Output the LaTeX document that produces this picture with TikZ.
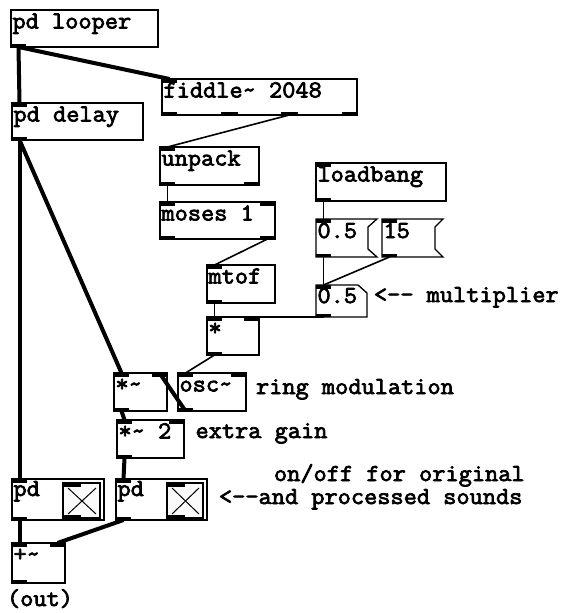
\documentclass[tikz,border=0pt]{standalone}
\usepackage{fontspec}
\newfontfamily\pdfont{Latin Modern Mono}[FakeStretch=1.05, FakeBold=3, Ligatures=TeXOff]
\usetikzlibrary{fit}
\newcommand\ioTL[1]{\fill (#1.north west) rectangle ++(15,3.5);}
\newcommand\ioTR[1]{\fill (#1.north east) rectangle ++(-15,3.5);}
\newcommand\ioBL[1]{\fill (#1.south west) rectangle ++(15,-3.5);}
\newcommand\ioBR[1]{\fill (#1.south east) rectangle ++(-15,-3.5);}
\newcommand\pdobj[6]{%
  \node[box, fit={(#2,#3) (#4,#5)}] (#1) {};
  \node[lbl] (#1-t) at (#2+1.5,#3+18.5) {#6};
}
\begin{document}
\begin{tikzpicture}[x=1pt,y=-1pt,
  box/.style={draw, line width=1.3pt, inner sep=0pt, outer sep=0pt},
  ghost/.style={inner sep=0pt, outer sep=0pt},
  sig/.style={line width=4pt},
  ctl/.style={line width=1.6pt},
  shp/.style={line width=1.3pt},
  lbl/.style={anchor=base west, inner sep=0pt, outer sep=0pt,
    font={\pdfont\fontsize{24.4}{26}\selectfont}},
  tgl/.style={draw, fill=gray!3, line width=1.3pt, inner sep=0pt, outer sep=0pt},
]
\useasboundingbox[fill=white] (0,0) rectangle (564,613);

% ---- objects
\pdobj{looper}{11}{10}{158}{47}{pd looper}
\ioBL{looper}
\pdobj{fiddle}{162}{79}{357}{115}{fiddle\string~ 2048}
\ioTL{fiddle}\ioBL{fiddle}\ioBR{fiddle}
\fill ([xshift=59.3pt]fiddle.south west) rectangle ++(17,-3.5);
\fill ([xshift=118.7pt]fiddle.south west) rectangle ++(17,-3.5);
\pdobj{delay}{12}{103}{143}{140}{pd delay}
\ioTL{delay}\ioBL{delay}
\pdobj{unpack}{160}{147}{259}{185}{unpack}
\ioTL{unpack}\ioBL{unpack}\ioBR{unpack}
\pdobj{moses}{160}{202}{275}{239}{moses 1}
\ioTL{moses}\ioTR{moses}\ioBL{moses}\ioBR{moses}
\pdobj{mtof}{207}{265}{275}{303}{mtof}
\ioTL{mtof}\ioBL{mtof}
\pdobj{mul}{207}{317}{259}{355}{*}
\ioTL{mul}\ioTR{mul}\ioBL{mul}
\pdobj{loadbang}{316}{163}{446}{201}{loadbang}
\ioTL{loadbang}\ioBL{loadbang}

% message boxes
\node[ghost, fit={(316,219) (368,257)}] (msgA) {};
\draw[shp] (msgA.north west) -- ([xshift=9pt]msgA.north east) -- ([shift={(0,8)}]msgA.north east)
  -- ([shift={(0,-8)}]msgA.south east) -- ([xshift=9pt]msgA.south east) -- (msgA.south west) -- cycle;
\node[lbl] (msgA-t) at (317.5,238) {0.5};
\ioTL{msgA}\ioBL{msgA}
\node[ghost, fit={(382,219) (435,257)}] (msgB) {};
\draw[shp] (msgB.north west) -- ([xshift=8pt]msgB.north east) -- ([shift={(0,8)}]msgB.north east)
  -- ([shift={(0,-8)}]msgB.south east) -- ([xshift=8pt]msgB.south east) -- (msgB.south west) -- cycle;
\node[lbl] (msgB-t) at (383.5,238) {15};
\ioTL{msgB}\ioBL{msgB}

% number atom
\node[ghost, fit={(316,285) (367,317)}] (atom) {};
\draw[shp] (atom.south west) -- (atom.north west) -- ([xshift=-9pt]atom.north east)
  -- ([shift={(0,8)}]atom.north east) -- (atom.south east) -- cycle;
\node[lbl] (atom-t) at (317.5,303) {0.5};
\ioTL{atom}\ioBL{atom}

\pdobj{sigmul}{114}{373}{167}{411}{*\string~}
\ioTL{sigmul}\ioTR{sigmul}\ioBL{sigmul}
\pdobj{osc}{178}{373}{246}{411}{osc\string~}
\ioTL{osc}\ioTR{osc}\ioBL{osc}
\pdobj{gain}{117}{420}{184}{458}{*\string~ 2}
\ioTL{gain}\ioTR{gain}\ioBL{gain}

% graph-on-parent subpatches with toggles
\node[box, fit={(12,479) (104,520)}] (pdA) {};
\node[lbl] (pdA-t) at (13.5,496) {pd};
\ioTL{pdA}\ioBL{pdA}
\node[tgl, fit={(63,483) (100,518)}] (tglA) {};
\draw[line width=1pt] ([shift={(5,5)}]tglA.north west) -- ([shift={(-4,-4)}]tglA.south east);
\draw[line width=1pt] ([shift={(-4,5)}]tglA.north east) -- ([shift={(5,-4)}]tglA.south west);
\fill (tglA.north west) rectangle ++(18,3.5);
\fill (tglA.south west) rectangle ++(18,-3.5);

\node[box, fit={(116,479) (207,520)}] (pdB) {};
\node[lbl] (pdB-t) at (117.5,496) {pd};
\ioTL{pdB}\ioBL{pdB}
\node[tgl, fit={(167,483) (203,518)}] (tglB) {};
\draw[line width=1pt] ([shift={(5,5)}]tglB.north west) -- ([shift={(-4,-4)}]tglB.south east);
\draw[line width=1pt] ([shift={(-4,5)}]tglB.north east) -- ([shift={(5,-4)}]tglB.south west);
\fill (tglB.north west) rectangle ++(18,3.5);
\fill (tglB.south west) rectangle ++(18,-3.5);

\pdobj{add}{12}{543}{65}{583}{+\string~}
\ioTL{add}\ioTR{add}\ioBL{add}

% ---- comments
\node[lbl] (c1) at (256,394) {ring modulation};
\node[lbl] (c2) at (195.5,438) {extra gain};
\node[lbl] (c3) at (274,481) {on/off for original};
\node[lbl] (c4) at (219,504) {<--and processed sounds};
\node[lbl] (c5) at (374,302) {<-- multiplier};
\node[lbl] (c6) at (7,606) {(out)};

% ---- signal connections
\draw[sig] ([xshift=7.5pt]looper.south west) -- ([xshift=7.5pt]delay.north west);
\draw[sig] ([xshift=7.5pt]looper.south west) -- ([xshift=7.5pt]fiddle.north west);
\draw[sig] ([xshift=7.5pt]delay.south west) -- ([xshift=7.5pt]pdA.north west);
\draw[sig] ([xshift=7.5pt]delay.south west) -- ([xshift=7.5pt]sigmul.north west);
\draw[sig] ([xshift=7.5pt]osc.south west) -- ([xshift=-7.5pt]sigmul.north east);
\draw[sig] ([xshift=7.5pt]sigmul.south west) -- ([xshift=7.5pt]gain.north west);
\draw[sig] ([xshift=7.5pt]gain.south west) -- ([xshift=7.5pt]pdB.north west);
\draw[sig] ([xshift=7.5pt]pdA.south west) -- ([xshift=7.5pt]add.north west);
\draw[sig] ([xshift=7.5pt]pdB.south west) -- ([xshift=-7.5pt]add.north east);

% ---- control connections
\draw[ctl] ([xshift=127.2pt]fiddle.south west) -- ([xshift=7.5pt]unpack.north west);
\draw[ctl] ([xshift=7.5pt]unpack.south west) -- ([xshift=7.5pt]moses.north west);
\draw[ctl] ([xshift=-7.5pt]moses.south east) -- ([xshift=7.5pt]mtof.north west);
\draw[ctl] ([xshift=7.5pt]mtof.south west) -- ([xshift=7.5pt]mul.north west);
\draw[ctl] ([xshift=7.5pt]loadbang.south west) -- ([xshift=7.5pt]msgA.north west);
\draw[ctl] ([xshift=7.5pt]msgA.south west) -- ([xshift=7.5pt]atom.north west);
\draw[ctl] ([xshift=7.5pt]msgB.south west) -- ([xshift=7.5pt]atom.north west);
\draw[ctl] ([xshift=7.5pt]atom.south west) -- ([xshift=-7.5pt]mul.north east);
\draw[ctl] ([xshift=7.5pt]mul.south west) -- ([xshift=7.5pt]osc.north west);
\end{tikzpicture}
\end{document}
